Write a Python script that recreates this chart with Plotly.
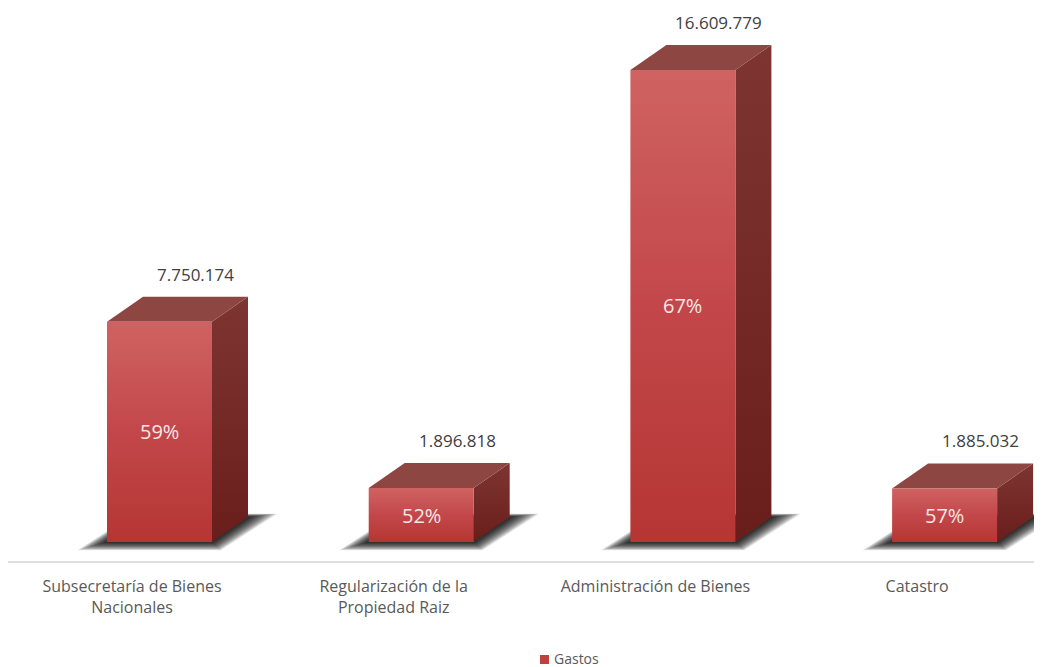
import plotly.graph_objects as go

# ---- data ----
categories = ["Subsecretaría de Bienes<br>Nacionales", "Regularización de la<br>Propiedad Raiz",
              "Administración de Bienes", "Catastro"]
gastos = [7750174, 1896818, 16609779, 1885032]
value_labels = ["7.750.174", "1.896.818", "16.609.779", "1.885.032"]
pct_labels = ["59%", "52%", "67%", "57%"]
series_name = "Gastos"

# ---- geometry (pixel-based layout constants; page body adds 8px offset) ----
W, H = 1034, 659
ML, MR, MT, MB = 0, 0, 0, 106
plot_w = W - ML - MR
plot_h = H - MT - MB
SLOT_PX = 261.7
X0_PX = 124.0
XR = [-X0_PX / SLOT_PX, (plot_w - X0_PX) / SLOT_PX]
YR = [-0.669e6, 18.79e6]
xu = (XR[1] - XR[0]) / plot_w          # x units per pixel
yu = (YR[1] - YR[0]) / plot_h          # y units per pixel

front_left = -25 * xu
front_w = 105 * xu
depth_x = 36 * xu
depth_y = 25 * yu

fig = go.Figure()

def poly(xs, ys, **kw):
    fig.add_trace(go.Scatter(x=xs + [xs[0]], y=ys + [ys[0]], mode="lines", fill="toself",
                             line=dict(width=0), hoverinfo="skip", showlegend=False, **kw))

# soft floor shadows
for i, v in enumerate(gastos):
    x0 = i + front_left
    x1 = x0 + front_w
    for e in range(30, 0, -1):
        ex = e * xu
        ey = e * 0.28 * yu
        xs = [x0 - ex, x1 + ex * 0.3, x1 + depth_x + ex, x0 + depth_x - ex * 0.3]
        ys = [-ey, -ey, depth_y + ey * 0.4, depth_y + ey * 0.4]
        poly(xs, ys, fillcolor="rgba(0,0,0,0.05)")

# bars
for i, v in enumerate(gastos):
    x0 = i + front_left
    x1 = x0 + front_w
    # side face
    poly([x1, x1 + depth_x, x1 + depth_x, x1], [0, depth_y, v + depth_y, v],
         fillcolor="#772b28",
         fillgradient=dict(type="vertical", colorscale=[[0, "#6a1e1b"], [1, "#7e3532"]]))
    # top face
    poly([x0, x1, x1 + depth_x, x0 + depth_x], [v, v, v + depth_y, v + depth_y],
         fillcolor="#8e4643")
    # front face
    poly([x0, x1, x1, x0], [0, 0, v, v],
         fillcolor="#c4484a",
         fillgradient=dict(type="vertical", colorscale=[[0, "#b53633"], [0.5, "#c3474a"], [1, "#cf6361"]]))

# labels
for i, v in enumerate(gastos):
    x0 = i + front_left
    fig.add_annotation(x=x0 + front_w / 2 + depth_x, y=v + depth_y, text=value_labels[i],
                       showarrow=False, yanchor="bottom", yshift=9,
                       font=dict(family="Open Sans", size=17, color="#404040"))
    fig.add_annotation(x=x0 + front_w / 2, y=v / 2, text=pct_labels[i], showarrow=False,
                       font=dict(family="Open Sans", size=20, color="#f6e6e6"))

# legend (manual): swatch + text
def px_x(p):
    return p / W
def px_y(p):
    return (plot_h - p) / plot_h

fig.add_shape(type="rect", xref="paper", yref="paper",
              x0=px_x(532), x1=px_x(541), y0=px_y(656), y1=px_y(647),
              fillcolor="#c0403d", line=dict(width=0))
fig.add_annotation(xref="paper", yref="paper", x=px_x(544), y=px_y(650),
                   xanchor="left", yanchor="middle", text=series_name, showarrow=False,
                   font=dict(family="Open Sans", size=14, color="#595959"))

fig.update_layout(
    width=W, height=H,
    margin=dict(l=ML, r=MR, t=MT, b=MB, autoexpand=False),
    paper_bgcolor="white", plot_bgcolor="white",
    showlegend=False,
    font=dict(family="Open Sans"),
)
fig.update_xaxes(range=XR, tickvals=list(range(len(categories))), ticktext=categories,
                 showgrid=False, zeroline=False, showline=True, linecolor="#dedede", linewidth=2,
                 ticks="", ticklabelstandoff=10, automargin=False,
                 tickfont=dict(family="Open Sans", size=16, color="#595959"), fixedrange=True)
fig.update_yaxes(range=YR, showgrid=False, zeroline=False, showticklabels=False,
                 showline=False, fixedrange=True, automargin=False)

fig.write_html("out.html")
